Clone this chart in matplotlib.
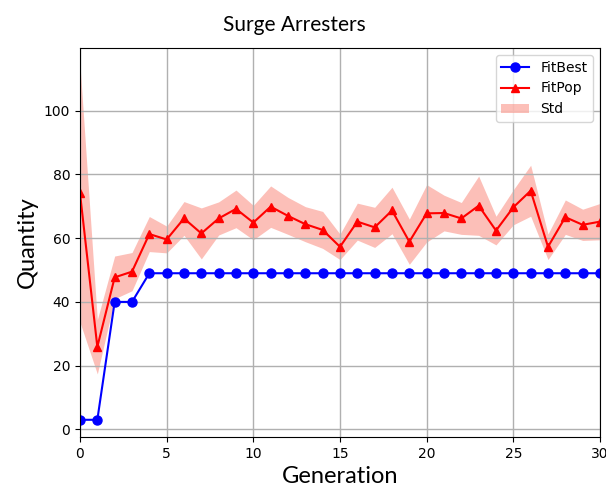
import numpy as np
import matplotlib
matplotlib.use("Agg")
import matplotlib.pyplot as plt

# generations and values
gens = np.arange(0, 31)
fit_best = [3, 3, 40, 40] + [49] * 27
fit_pop = [74.1, 25.9, 47.7, 49.5, 61.3, 59.6, 66.2, 61.5, 66.2, 69.2,
           64.9, 69.9, 67.0, 64.4, 62.6, 57.3, 65.2, 63.4, 68.7, 58.9,
           67.8, 67.9, 66.2, 70.2, 62.4, 69.7, 74.9, 57.3, 66.6, 64.2, 65.2]
pop_std = [40.5, 8.5, 6.7, 6.0, 5.5, 4.2, 5.3, 8.0, 5.2, 5.9,
           5.4, 6.5, 5.8, 5.5, 5.8, 4.0, 5.8, 6.3, 7.3, 7.1,
           9.0, 5.6, 5.0, 9.3, 4.5, 5.5, 8.0, 4.0, 5.4, 4.9, 5.7]

fit_pop = np.array(fit_pop)
pop_std = np.array(pop_std)

fig = plt.figure(figsize=(6.06, 4.91), dpi=100)
ax = fig.add_axes([80/606, 1-437/491, 520/606, (437-48)/491])

ax.fill_between(gens, fit_pop - pop_std, fit_pop + pop_std, color='salmon', alpha=0.5, linewidth=0, label='Std')
ax.plot(gens, fit_best, 'b-o', markersize=6.5, label='FitBest')
ax.plot(gens, fit_pop, 'r-^', markersize=6, label='FitPop')

ax.set_xlim(0, 30)
ax.set_ylim(-2.4, 119.7)
ax.set_xticks([0, 5, 10, 15, 20, 25, 30])
ax.set_yticks([0, 20, 40, 60, 80, 100])
ax.tick_params(labelsize=10)
ax.grid(True, color='#b0b0b0', linewidth=1)

h, l = ax.get_legend_handles_labels()
ax.legend([h[1], h[2], h[0]], [l[1], l[2], l[0]], loc='upper right', fontsize=10)

ax.set_xlabel('Generation', fontsize=17, family='Lato')
ax.set_ylabel('Quantity', fontsize=17, family='Lato')
fig.text(294/606, 1-25/491, 'Surge Arresters', fontsize=15, family='Lato', ha='center', va='center')

fig.savefig('out.png', dpi=100)
